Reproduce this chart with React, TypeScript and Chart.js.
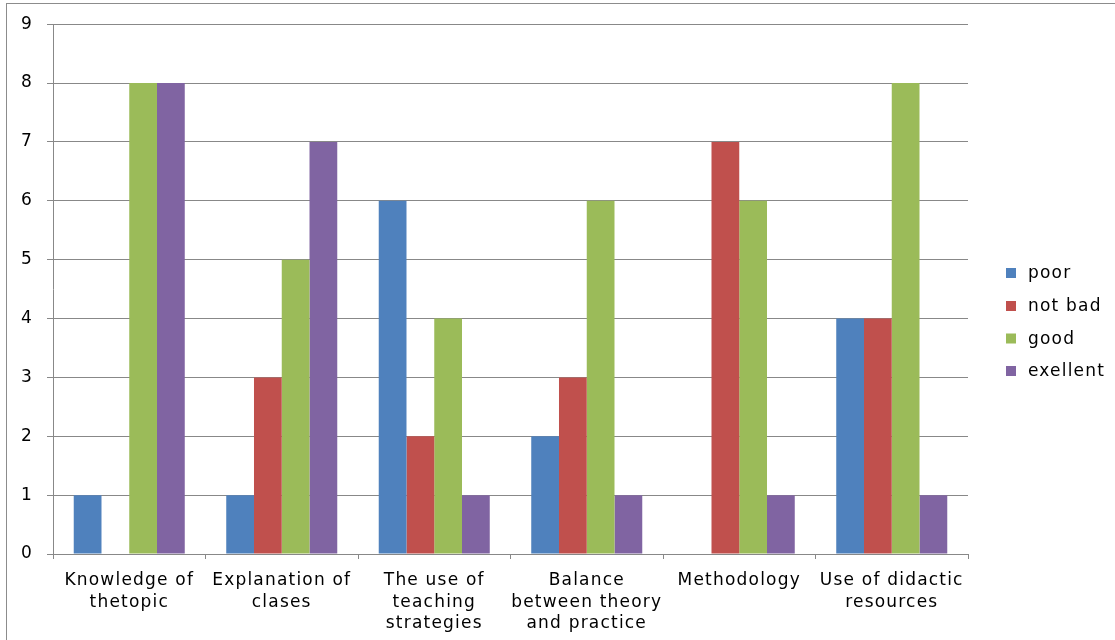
import { useEffect, useRef } from "react";
import { Chart, registerables } from "chart.js";

Chart.register(...registerables);

// Survey categories (multi-line labels under the x axis)
const categories: string[][] = [
  ["Knowledge of", "thetopic"],
  ["Explanation of", "clases"],
  ["The use of", "teaching", "strategies"],
  ["Balance", "between theory", "and practice"],
  ["Methodology"],
  ["Use of didactic", "resources"],
];

// Number of answers per rating
const poor = [1, 1, 6, 2, 0, 4];
const notBad = [0, 3, 2, 3, 7, 4];
const good = [8, 5, 4, 6, 6, 8];
const excellent = [8, 7, 1, 1, 1, 1];

const seriesNames = ["poor", "not bad", "good", "exellent"];
const seriesColors = ["#4F81BD", "#C0504D", "#9BBB59", "#8064A2"];

const yMin = 0;
const yMax = 9;
const yStep = 1;

const FONT = "'DejaVu Sans', Verdana, sans-serif";
const FONT_SIZE = 17;
const LINE = "#888888";

export default function App() {
  const canvasRef = useRef<HTMLCanvasElement>(null);

  useEffect(() => {
    const canvas = canvasRef.current;
    if (!canvas) return;

    const spacingPlugin = {
      id: "letterSpacing",
      beforeDraw(chart: any) {
        const ctx = chart.ctx as any;
        ctx.fillStyle = "#ffffff";
        ctx.fillRect(0, 0, chart.width, chart.height);
        // outer frame
        ctx.save();
        ctx.strokeStyle = "#8c8c8c";
        ctx.lineWidth = 1;
        ctx.strokeRect(6.5, 3.5, 1400, 900);
        ctx.restore();
        ctx.letterSpacing = "1.2px";
      },
    };

    const legendPlugin = {
      id: "sideLegend",
      afterDraw(chart: any) {
        const ctx = chart.ctx as any;
        ctx.save();
        ctx.letterSpacing = "1.2px";
        ctx.font = `${FONT_SIZE}px ${FONT}`;
        ctx.textBaseline = "middle";
        ctx.textAlign = "left";
        const rowCenters = [273, 306, 338.5, 371];
        chart.data.datasets.forEach((ds: any, i: number) => {
          const cy = rowCenters[i];
          ctx.fillStyle = ds.backgroundColor;
          ctx.fillRect(1006, cy - 5, 10, 10);
          ctx.fillStyle = "#000000";
          ctx.fillText(ds.label, 1028, cy + 1);
        });
        ctx.restore();
      },
    };

    const chart = new Chart(canvas, {
      type: "bar",
      data: {
        labels: categories,
        datasets: [poor, notBad, good, excellent].map((values, i) => ({
          label: seriesNames[i],
          data: values,
          backgroundColor: seriesColors[i],
          borderWidth: 0,
          categoryPercentage: 0.728,
          barPercentage: 1,
        })),
      },
      options: {
        responsive: false,
        animation: false,
        layout: { padding: { left: 0, top: 22, right: 147, bottom: 0 } },
        plugins: {
          legend: { display: false },
          tooltip: { enabled: false },
        },
        scales: {
          x: {
            grid: {
              offset: true,
              drawOnChartArea: false,
              drawTicks: true,
              tickLength: 5,
              color: LINE,
              lineWidth: 1,
            },
            border: { color: LINE, width: 1 },
            ticks: {
              color: "#000000",
              font: { family: FONT, size: FONT_SIZE, lineHeight: 1.27 },
              padding: 11,
              maxRotation: 0,
              autoSkip: false,
            },
            afterFit(scale: any) {
              scale.height = 86;
            },
          },
          y: {
            min: yMin,
            max: yMax,
            ticks: {
              stepSize: yStep,
              color: "#000000",
              font: { family: FONT, size: FONT_SIZE },
              padding: 14,
            },
            grid: {
              color: LINE,
              lineWidth: 1,
              tickLength: 6,
              drawTicks: true,
            },
            border: { color: LINE, width: 1 },
            afterFit(scale: any) {
              scale.width = 53;
            },
          },
        },
      },
      plugins: [spacingPlugin, legendPlugin],
    });

    return () => chart.destroy();
  }, []);

  return (
    <div
      style={{
        position: "fixed",
        left: 0,
        top: 0,
        width: 1115,
        height: 640,
        background: "#ffffff",
      }}
    >
      <canvas
        ref={canvasRef}
        width={1115}
        height={640}
        style={{ display: "block", width: 1115, height: 640 }}
      />
    </div>
  );
}
